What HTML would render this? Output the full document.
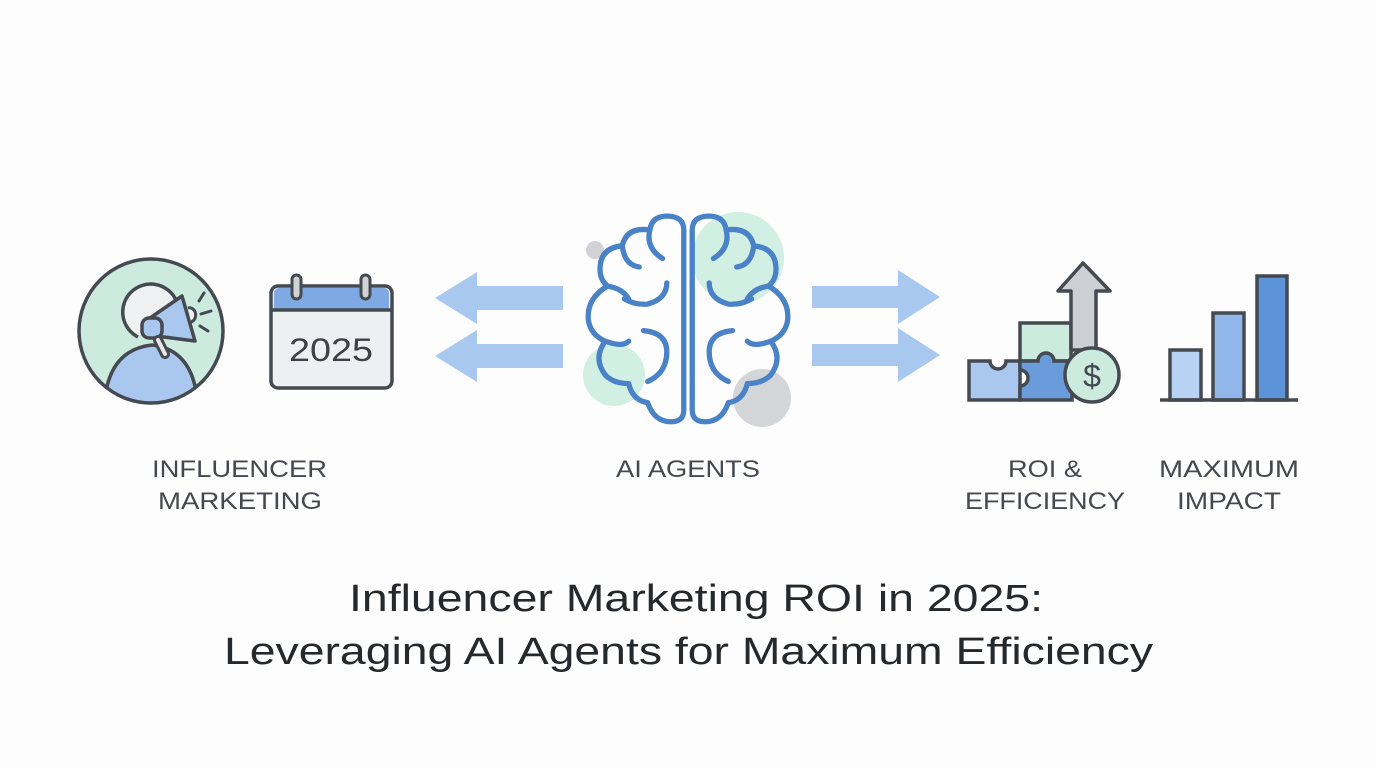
<!DOCTYPE html>
<html><head><meta charset="utf-8"><style>
html,body{margin:0;padding:0;background:#fdfdfd;}
svg{display:block}
text{font-family:"Liberation Sans",sans-serif;}
</style></head><body>
<svg width="1376" height="768" viewBox="0 0 1376 768" xmlns="http://www.w3.org/2000/svg">
<rect width="1376" height="768" fill="#fdfdfd"/>
<!-- influencer circle -->
<circle cx="151" cy="331" r="72" fill="#cdeadf"/>
<clipPath id="cc"><circle cx="151" cy="331" r="71"/></clipPath>
<g clip-path="url(#cc)">
<path d="M104 410 Q106 350 152 345 Q196 350 198 410 Z" fill="#a9c7ef" stroke="#444a50" stroke-width="3.5"/>
</g>
<circle cx="151" cy="331" r="72" fill="none" stroke="#444a50" stroke-width="3.5"/>
<path d="M138 337 A28 28 0 1 1 176 300" fill="#eef0f1" stroke="#444a50" stroke-width="3.5"/>
<path d="M150 318 L182 296 L195 341 L156 336 Z" fill="#a9c7ef" stroke="#444a50" stroke-width="3.5" stroke-linejoin="round"/>
<path d="M188 308 a6 7 0 0 1 3 14" fill="#eef0f1" stroke="#444a50" stroke-width="3"/>
<rect x="142" y="318" width="20" height="20" rx="7" fill="#a9c7ef" stroke="#444a50" stroke-width="3.5"/>
<path d="M158 340 L165 354" stroke="#444a50" stroke-width="10" stroke-linecap="round"/>
<path d="M158 340 L165 354" stroke="#e5e7e9" stroke-width="4" stroke-linecap="round"/>
<path d="M199 301 L204 293 M201 314 L211 311 M200 326 L208 331" stroke="#444a50" stroke-width="3" stroke-linecap="round"/>
<!-- calendar -->
<rect x="271" y="286" width="121" height="102" rx="7" fill="#edf0f2" stroke="#444a50" stroke-width="3.5"/>
<path d="M274 309 V293 a5 5 0 0 1 5 -5 H384 a5 5 0 0 1 5 5 V309 Z" fill="#7fa9e3"/>
<line x1="271" y1="310" x2="392" y2="310" stroke="#444a50" stroke-width="3.5"/>
<rect x="292" y="275" width="9" height="24" rx="4.5" fill="#d0d3d6" stroke="#444a50" stroke-width="3"/>
<rect x="361" y="275" width="9" height="24" rx="4.5" fill="#d0d3d6" stroke="#444a50" stroke-width="3"/>
<text x="331" y="361" font-size="32" fill="#3d4247" text-anchor="middle" textLength="84" lengthAdjust="spacingAndGlyphs">2025</text>
<!-- left arrows -->
<path d="M563 286 H477 V272 L435 298 L477 324 V310 H563 Z" fill="#a9c8f0"/>
<path d="M563 344 H477 V330 L435 356 L477 382 V368 H563 Z" fill="#a9c8f0"/>
<!-- right arrows -->
<path d="M812 286 H898 V270 L940 297 L898 324 V308 H812 Z" fill="#a9c8f0"/>
<path d="M812 344 H898 V328 L940 355 L898 382 V366 H812 Z" fill="#a9c8f0"/>
<!-- brain bg circles -->
<circle cx="738" cy="258" r="46" fill="#d2efe4"/>
<circle cx="614" cy="375" r="31" fill="#d2efe4"/>
<circle cx="762" cy="398" r="29" fill="#d3d5d8"/>
<circle cx="595" cy="250" r="9" fill="#d0d2d5"/>
<!-- brain -->
<g fill="none" stroke="#4a82c8" stroke-width="5" stroke-linecap="round" stroke-linejoin="round" transform="translate(688 320) scale(1.06) translate(-688 -320)">
<path d="M684 235 Q684 222 668 222 Q654 222 652 235 Q630 232 626 250 Q605 252 605 272 Q605 282 612 288 Q592 300 594 320 Q596 334 610 340 Q598 356 610 372 Q618 380 632 380 Q636 396 650 398 Q656 416 672 416 Q684 416 684 405 Z"/>
<path d="M692 235 Q692 222 708 222 Q722 222 724 235 Q746 232 750 250 Q771 252 771 272 Q771 282 764 288 Q784 300 782 320 Q780 334 766 340 Q778 356 766 372 Q758 380 744 380 Q740 396 726 398 Q720 416 704 416 Q692 416 692 405 Z"/>
<path d="M652 235 Q648 252 664 262"/>
<path d="M626 250 Q628 268 642 270"/>
<path d="M668 285 Q668 300 650 305 Q638 306 628 300"/>
<path d="M612 288 Q626 290 632 300"/>
<path d="M646 330 Q668 332 668 350 Q668 370 650 378"/>
<path d="M610 340 Q626 346 632 340"/>
<path d="M724 235 Q728 252 712 262"/>
<path d="M750 250 Q748 268 734 270"/>
<path d="M708 285 Q708 300 726 305 Q738 306 748 300"/>
<path d="M764 288 Q750 290 744 300"/>
<path d="M730 330 Q708 332 708 350 Q708 370 726 378"/>
<path d="M766 340 Q750 346 744 340"/>
</g>
<!-- ROI -->
<rect x="1020" y="323" width="51" height="38" fill="#cdeadf" stroke="#444a50" stroke-width="3.5"/>
<path d="M1071 350 V291 H1058 L1083 263 L1110 291 H1096 V350 Z" fill="#ccd0d4" stroke="#444a50" stroke-width="3.5" stroke-linejoin="round"/>
<path d="M969 361 H990 a8 8 0 0 0 16 0 H1020 V400 H969 Z" fill="#a9c7ef" stroke="#444a50" stroke-width="3.5"/>
<path d="M1020 361 H1038 a8 8 0 1 1 16 0 H1072 V400 H1020 V386 a8 8 0 0 0 0 -16 Z" fill="#6a9bdb" stroke="#444a50" stroke-width="3.5"/>
<circle cx="1092" cy="375" r="27" fill="#cdeadf" stroke="#444a50" stroke-width="3.5"/>
<text x="1092" y="387" font-size="32" fill="#444a50" text-anchor="middle">$</text>
<!-- bars -->
<rect x="1170" y="350" width="31" height="50" fill="#b7d2f3" stroke="#444a50" stroke-width="3.5"/>
<rect x="1213" y="313" width="31" height="87" fill="#90b6ea" stroke="#444a50" stroke-width="3.5"/>
<rect x="1257" y="276" width="30" height="124" fill="#5d93d8" stroke="#444a50" stroke-width="3.5"/>
<line x1="1160" y1="400" x2="1298" y2="400" stroke="#444a50" stroke-width="3.5"/>
<!-- labels -->
<g font-size="24" fill="#45494e">
<text x="152" y="477" textLength="175" lengthAdjust="spacingAndGlyphs">INFLUENCER</text>
<text x="158" y="509" textLength="164" lengthAdjust="spacingAndGlyphs">MARKETING</text>
<text x="616" y="477" textLength="144" lengthAdjust="spacingAndGlyphs">AI AGENTS</text>
<text x="1008" y="477" textLength="74" lengthAdjust="spacingAndGlyphs">ROI &amp;</text>
<text x="965" y="509" textLength="160" lengthAdjust="spacingAndGlyphs">EFFICIENCY</text>
<text x="1159" y="477" textLength="140" lengthAdjust="spacingAndGlyphs">MAXIMUM</text>
<text x="1177" y="509" textLength="104" lengthAdjust="spacingAndGlyphs">IMPACT</text>
</g>
<g font-size="38" fill="#26292c">
<text x="349" y="611" textLength="694" lengthAdjust="spacingAndGlyphs">Influencer Marketing ROI in 2025:</text>
<text x="224" y="664" textLength="929" lengthAdjust="spacingAndGlyphs">Leveraging AI Agents for Maximum Efficiency</text>
</g>
</svg>
</body></html>
